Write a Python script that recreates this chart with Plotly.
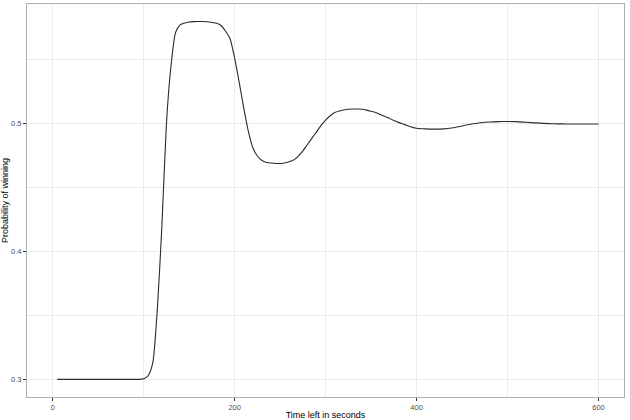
import plotly.graph_objects as go

time_left = [5, 10, 15, 20, 25, 30, 35, 40, 45, 50, 55, 60, 65, 70, 75, 80, 85, 90, 95,
             100, 105, 110, 115, 120, 125, 130, 135, 140, 145, 150, 155, 160, 165, 170,
             175, 180, 185, 190, 195, 200, 205, 210, 215, 220, 225, 230, 235, 240, 245,
             250, 255, 260, 265, 270, 275, 280, 285, 290, 295, 300, 305, 310, 315, 320,
             325, 330, 335, 340, 345, 350, 355, 360, 365, 370, 375, 380, 385, 390, 395,
             400, 410, 420, 430, 440, 450, 460, 470, 480, 490, 500, 510, 520, 530, 540,
             550, 560, 570, 580, 590, 600]
prob_win = [0.3, 0.3, 0.3, 0.3, 0.3, 0.3, 0.3, 0.3, 0.3, 0.3, 0.3, 0.3, 0.3, 0.3, 0.3,
            0.3, 0.3, 0.3, 0.3,
            0.3005, 0.303, 0.313, 0.355, 0.42, 0.50, 0.545, 0.571, 0.577, 0.5785, 0.5792,
            0.5795, 0.5796, 0.5796, 0.5794, 0.5789, 0.5782, 0.5765, 0.572, 0.566, 0.551,
            0.532, 0.512, 0.494, 0.481, 0.4745, 0.471, 0.4695, 0.469, 0.4687, 0.4687,
            0.469, 0.470, 0.4715, 0.4745, 0.4785, 0.4835, 0.4885, 0.4934, 0.4985, 0.5026,
            0.506, 0.5085, 0.5097, 0.5105, 0.511, 0.5112, 0.5112, 0.511, 0.5104, 0.5095,
            0.5085, 0.507, 0.5055, 0.504, 0.5022, 0.5008, 0.4995, 0.4982, 0.4970, 0.4962,
            0.4957, 0.4955, 0.4957, 0.4966, 0.498, 0.4995, 0.5005, 0.5011, 0.5014, 0.5015,
            0.5014, 0.5009, 0.5004, 0.5, 0.4997, 0.4996, 0.4995, 0.4995, 0.4995, 0.4995]

x_ticks = [0, 200, 400, 600]
y_ticks = [0.3, 0.4, 0.5]
y_tick_labels = ["0.3", "0.4", "0.5"]

fig = go.Figure()
fig.add_trace(go.Scatter(x=time_left, y=prob_win, mode="lines",
                         line=dict(color="#2b2b2b", width=1.1, shape="spline", smoothing=0.6),
                         hoverinfo="skip", showlegend=False))

grid = "#EBEBEB"
fig.update_layout(
    width=630, height=420,
    margin=dict(l=27, r=6, t=4, b=23),
    paper_bgcolor="white", plot_bgcolor="white",
    font=dict(family="Liberation Sans, Arial, sans-serif", color="#4D4D4D", size=7.5),
    xaxis=dict(
        range=[-28.3, 628], tickvals=x_ticks, ticktext=[str(v) for v in x_ticks],
        showgrid=True, gridcolor=grid, gridwidth=1,
        minor=dict(tickvals=[100, 300, 500], showgrid=True, gridcolor=grid, gridwidth=0.5),
        ticks="outside", ticklen=3, tickcolor="#333333", tickwidth=1,
        showline=True, linecolor="#B0B0B0", linewidth=1, mirror=True,
        zeroline=False, automargin=False,
        title=dict(text="Time left in seconds", font=dict(size=9, color="black"), standoff=0),
    ),
    yaxis=dict(
        range=[0.2862, 0.5933], tickvals=y_ticks, ticktext=y_tick_labels,
        showgrid=True, gridcolor=grid, gridwidth=1,
        minor=dict(tickvals=[0.35, 0.45, 0.55], showgrid=True, gridcolor=grid, gridwidth=0.5),
        ticks="outside", ticklen=3, tickcolor="#333333", tickwidth=1,
        showline=True, linecolor="#B0B0B0", linewidth=1, mirror=True,
        zeroline=False, automargin=False,
        title=dict(text="Probability of winning", font=dict(size=9, color="black"), standoff=1),
    ),
)

fig.write_html("out.html", config={"displayModeBar": False},
               post_script="document.body.style.margin='0';document.body.style.overflow='hidden';")
